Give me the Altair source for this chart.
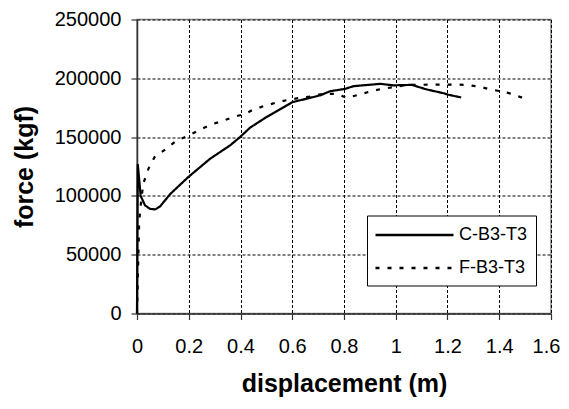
import altair as alt
import pandas as pd

series_names = ["C-B3-T3", "F-B3-T3"]

c_x = [0, 0.003, 0.006, 0.014, 0.031, 0.05, 0.07, 0.089, 0.128, 0.198, 0.282, 0.36, 0.398,
       0.437, 0.5, 0.6, 0.708, 0.746, 0.804, 0.837, 0.94, 0.991, 1.062, 1.12, 1.185, 1.204, 1.253]
c_y = [0, 127000, 120000, 100000, 92000, 89000, 88500, 91000, 101500, 116000, 131500, 143000, 150000,
       158000, 167000, 179700, 185500, 189000, 191000, 193300, 195300, 194000, 194400, 190500, 187300,
       186000, 183700]

f_x = [0, 0.008, 0.012, 0.024, 0.044, 0.068, 0.121, 0.153, 0.192, 0.237, 0.282, 0.327, 0.372, 0.418,
       0.448, 0.493, 0.545, 0.59, 0.667, 0.719, 0.772, 0.811, 0.86, 0.90, 0.946, 0.99, 1.043, 1.088,
       1.133, 1.178, 1.223, 1.275, 1.32, 1.358, 1.404, 1.449, 1.49]
f_y = [0, 75000, 87600, 110300, 123000, 133000, 141400, 147100, 150500, 155600, 160400, 163500, 167000,
       169800, 173200, 176600, 179700, 182000, 184500, 186800, 186800, 183400, 186200, 188800, 191000,
       192400, 194400, 194400, 194700, 194700, 194700, 194400, 193000, 191000, 189000, 186800, 183400]

x_ticks = [0, 0.2, 0.4, 0.6, 0.8, 1.0, 1.2, 1.4, 1.6]
y_ticks = [0, 50000, 100000, 150000, 200000, 250000]

rows = []
for name, xs, ys in [(series_names[0], c_x, c_y), (series_names[1], f_x, f_y)]:
    for i, (xv, yv) in enumerate(zip(xs, ys)):
        rows.append({"series": name, "x": xv, "y": yv, "order": i})
df = pd.DataFrame(rows)

FONT = "Liberation Sans"

chart = alt.Chart(df).mark_line(color="black", strokeWidth=2.2).encode(
    x=alt.X("x:Q",
            scale=alt.Scale(domain=[0, 1.6], nice=False, zero=False),
            axis=alt.Axis(title="displacement (m)", values=x_ticks, format="~g",
                          labelFlush=False, labelOverlap=False, labelPadding=17,
                          labelOffset={"condition": {"test": "datum.value >= 1.59", "value": -5},
                                       "value": 0},
                          titlePadding=15)),
    y=alt.Y("y:Q",
            scale=alt.Scale(domain=[0, 250000], nice=False),
            axis=alt.Axis(title="force (kgf)", values=y_ticks, format="d",
                          labelFlush=False, labelOverlap=False, labelPadding=10,
                          titlePadding=17)),
    strokeDash=alt.StrokeDash("series:N",
                              scale=alt.Scale(domain=series_names, range=[[1, 0], [4, 8]]),
                              legend=alt.Legend(title=None, orient="none", legendX=230, legendY=196,
                                                strokeColor="black", fillColor="white", padding=8,
                                                symbolType="M-3.9,0L3.9,0", symbolSize=400,
                                                symbolStrokeWidth=2.5, symbolStrokeColor="black",
                                                symbolOffset=28, labelOffset=33, labelFontSize=18,
                                                labelFont=FONT, labelColor="black", rowPadding=12)),
    order="order:Q",
).properties(
    width=414, height=294,
    background="white",
    autosize=alt.AutoSizeParams(type="none"),
    padding={"left": 129, "top": 11.5, "right": 10, "bottom": 87.5},
).configure_view(
    stroke="#888888", strokeWidth=1.5,
).configure_axis(
    grid=True, gridColor="black", gridDash=[3, 2], gridWidth=1,
    domainColor="#333333", domainWidth=1.5,
    tickColor="#333333", tickSize=6, tickWidth=1.2,
    labelFont=FONT, labelFontSize=20, labelColor="black",
    titleFont=FONT, titleFontSize=25, titleFontWeight="bold", titleColor="black",
)

chart.save("out.html", embed_options={"renderer": "svg", "actions": False})
